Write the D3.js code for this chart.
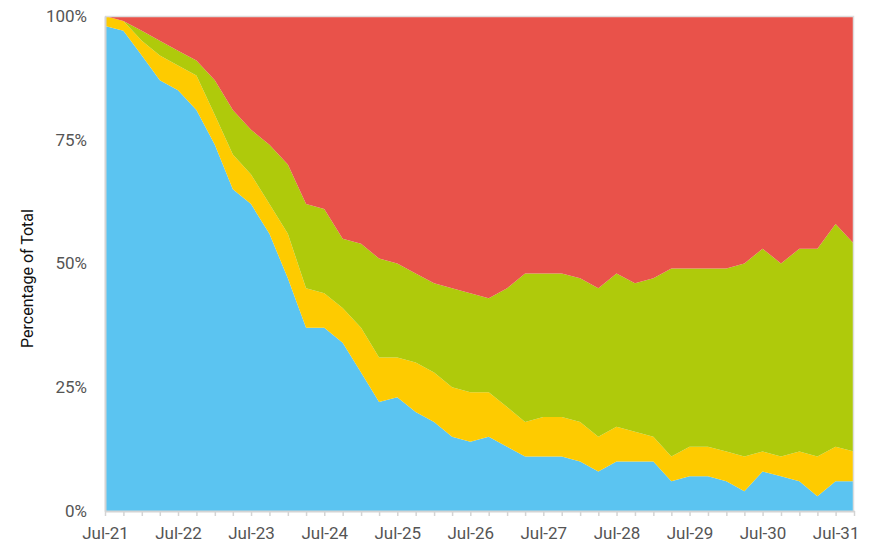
<!DOCTYPE html>
<html>
<head>
<meta charset="utf-8">
<script src="https://cdn.jsdelivr.net/npm/d3@7"></script>
<style>
  body { margin: 0; background: #fff; }
  text { font-family: Roboto, "Noto Sans", sans-serif; }
</style>
</head>
<body>
<div id="chart"></div>
<script>
// Quarterly periods
var quarters = [
  "2021-07","2021-10","2022-01","2022-04","2022-07","2022-10","2023-01","2023-04",
  "2023-07","2023-10","2024-01","2024-04","2024-07","2024-10","2025-01","2025-04",
  "2025-07","2025-10","2026-01","2026-04","2026-07","2026-10","2027-01","2027-04",
  "2027-07","2027-10","2028-01","2028-04","2028-07","2028-10","2029-01","2029-04",
  "2029-07","2029-10","2030-01","2030-04","2030-07","2030-10","2031-01","2031-04",
  "2031-07","2031-10"
];

// Share of total (%) for each series, bottom to top
var blueShare   = [98,97,92,87,85,81,74,65,62,56,47,37,37,34,28,22,23,20,18,15,14,15,13,11,11,11,10,8,10,10,10,6,7,7,6,4,8,7,6,3,6,6];
var yellowShare = [2,2,3,5,5,7,6,7,6,6,9,8,7,7,9,9,8,10,10,10,10,9,8,7,8,8,8,7,7,6,5,5,6,6,6,7,4,4,6,8,7,6];
var greenShare  = [0,0,2,3,3,3,7,9,9,12,14,17,17,14,17,20,19,18,18,20,20,19,24,30,29,29,29,30,31,30,32,38,36,36,37,39,41,39,41,42,45,42];
var redShare    = [0,1,3,5,7,9,13,19,23,26,30,38,39,45,46,49,50,52,54,55,56,57,55,52,52,52,53,55,52,54,53,51,51,51,51,50,47,50,47,47,42,46];

var seriesKeys = ["blue", "yellow", "green", "red"];
var seriesColors = ["#5bc4f1", "#fecb00", "#afca0b", "#e9524a"];
var yTicks = [0, 0.25, 0.5, 0.75, 1];

var parseMonth = d3.timeParse("%Y-%m");
var dataset = quarters.map(function(q, i) {
  return {
    date: parseMonth(q),
    blue: blueShare[i],
    yellow: yellowShare[i],
    green: greenShare[i],
    red: redShare[i]
  };
});

var margin = { top: 16, right: 21, bottom: 34, left: 105 };
var width = 875 - margin.left - margin.right;
var height = 545 - margin.top - margin.bottom;

var svg = d3.select("#chart")
  .append("svg")
  .attr("width", 875)
  .attr("height", 545)
  .append("g")
  .attr("transform", "translate(" + margin.left + "," + margin.top + ")");

var xScale = d3.scaleTime()
  .domain(d3.extent(dataset, function(d) { return d.date; }))
  .range([0, width]);

var yScale = d3.scaleLinear()
  .domain([0, 1])
  .range([height, 0]);

var stack = d3.stack()
  .keys(seriesKeys)
  .offset(d3.stackOffsetExpand);

var layers = stack(dataset);

var area = d3.area()
  .x(function(d) { return xScale(d.data.date); })
  .y0(function(d) { return yScale(d[0]); })
  .y1(function(d) { return yScale(d[1]); });

svg.selectAll(".layer")
  .data(layers)
  .enter()
  .append("path")
  .attr("class", "layer")
  .attr("d", area)
  .attr("fill", function(d, i) { return seriesColors[i]; });

// frame on top and right
svg.append("path")
  .attr("d", "M0,0.5H" + (width - 0.5) + "V" + height)
  .attr("fill", "none")
  .attr("stroke", "#dddddd")
  .attr("stroke-width", 1.5);

// x axis: a tick every quarter, labels only on July
var xAxis = d3.axisBottom(xScale)
  .tickValues(dataset.map(function(d) { return d.date; }))
  .tickSize(5)
  .tickSizeOuter(0)
  .tickFormat(function(d) {
    return d.getMonth() === 6 ? d3.timeFormat("%b-%y")(d) : "";
  });

var gx = svg.append("g")
  .attr("transform", "translate(0," + height + ")")
  .call(xAxis);
gx.select(".domain").attr("stroke", "#d4d4d4").attr("stroke-width", 2);
gx.selectAll(".tick line").attr("stroke", "#d4d4d4").attr("stroke-width", 1.5);
gx.selectAll(".tick text")
  .attr("dy", "1.2em")
  .attr("font-size", "17px")
  .attr("fill", "#555");

// y axis
var yAxis = d3.axisLeft(yScale)
  .tickValues(yTicks)
  .tickSize(0)
  .tickPadding(18)
  .tickFormat(d3.format(".0%"));

var gy = svg.append("g").call(yAxis);
gy.select(".domain").attr("stroke", "#d4d4d4").attr("stroke-width", 2);
gy.selectAll(".tick text")
  .attr("font-size", "17px")
  .attr("fill", "#555");

svg.append("text")
  .attr("transform", "rotate(-90)")
  .attr("x", -height / 2 - 15)
  .attr("y", -72)
  .attr("text-anchor", "middle")
  .attr("font-size", "16px")
  .attr("fill", "#111")
  .text("Percentage of Total");
</script>
</body>
</html>
